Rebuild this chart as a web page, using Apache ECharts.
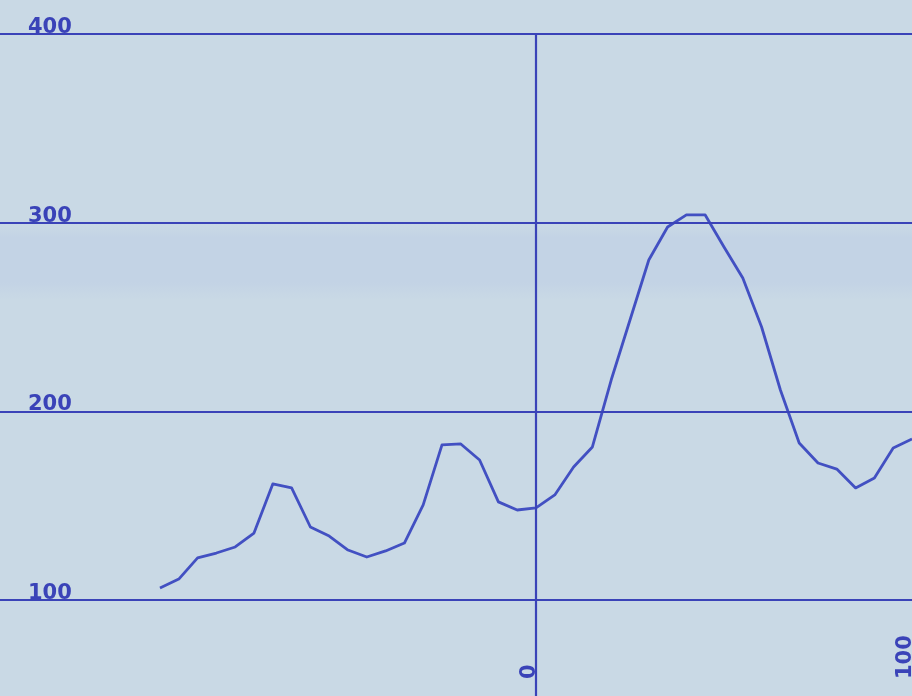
<!DOCTYPE html>
<html>
<head>
<meta charset="utf-8">
<script src="https://cdn.jsdelivr.net/npm/echarts@6/dist/echarts.min.js"></script>
<style>
html,body{margin:0;padding:0;}
body{background:linear-gradient(to bottom,#c9d9e5 0px,#c9d9e5 224px,#c3d3e5 238px,#c3d3e5 282px,#c9d9e5 300px,#c9d9e5 696px);}
#chart{width:912px;height:696px;}
</style>
</head>
<body>
<div id="chart"></div>
<script>
// x positions (every 5 units) and traced y values
const xValues = [-100,-95,-90,-85,-80,-75,-70,-65,-60,-55,-50,-45,-40,-35,-30,-25,-20,-15,-10,-5,0,5,10,15,20,25,30,35,40,45,50,55,60,65,70,75,80,85,90,95,100];
const yValues = [106.4,111.1,122.3,124.9,128.1,135.5,161.5,159.4,138.7,133.9,126.5,122.8,126.0,130.2,150.4,182.2,182.7,174.2,152.0,147.7,148.8,155.7,170.5,181.1,216.6,248.4,280.2,297.7,304.1,304.1,287.1,270.7,244.7,211.3,183.2,172.6,169.4,159.4,164.7,180.6,185.3];
const yTicks = [100,200,300,400];
const xTicks = [0,100];
const xGridLines = [0];

const ink = '#3a43b8';
const lineInk = '#4250c2';
const labelFont = {color: ink, fontSize: 21, fontWeight: 'bold', fontFamily: 'DejaVu Sans', lineHeight: 13};

const chart = echarts.init(document.getElementById('chart'), null, {renderer: 'canvas'});
chart.setOption({
  backgroundColor: 'transparent',
  animation: false,
  grid: {left: 0, right: 0, top: 34, bottom: 0, containLabel: false, outerBoundsMode: 'none'},
  xAxis: {
    type: 'value', min: -142.55, max: 100,
    axisLine: {show: false}, axisTick: {show: false}, splitLine: {show: false},
    axisLabel: Object.assign({customValues: xTicks, inside: true, rotate: 90, margin: 17, verticalAlign: 'bottom', align: 'left', hideOverlap: false}, labelFont)
  },
  yAxis: {
    type: 'value', min: 49.12, max: 400,
    axisLine: {show: false}, axisTick: {show: false}, splitLine: {show: false},
    axisLabel: Object.assign({customValues: yTicks, inside: true, margin: 28, verticalAlign: 'bottom', align: 'left'}, labelFont)
  },
  series: [{
    type: 'line',
    data: xValues.map((x, i) => [x, yValues[i]]),
    showSymbol: false,
    clip: false,
    lineStyle: {color: lineInk, width: 2.8, join: 'round'},
    markLine: {
      silent: true,
      symbol: 'none',
      label: {show: false},
      lineStyle: {color: ink, width: 2.2, type: 'solid'},
      data: yTicks.map(v => ({yAxis: v})).concat(xGridLines.map(v => ({xAxis: v})))
    }
  }]
});
</script>
</body>
</html>
